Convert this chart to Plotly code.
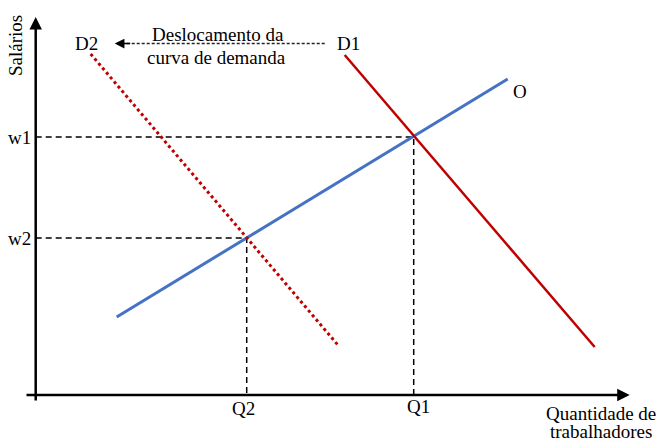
import plotly.graph_objects as go

# ---- data (economic units, origin at axes corner) ----
supply_x = [8.1, 47.2]
supply_y = [7.8, 31.6]
d1_x = [30.9, 55.9]
d1_y = [34.0, 4.8]
d2_x = [5.5, 30.3]
d2_y = [34.1, 4.9]
q_vals = [21.1, 37.8]          # Q2, Q1
w_vals = [15.7, 25.8]          # w2, w1
q_labels = ["Q2", "Q1"]
w_labels = ["w2", "w1"]
shift_x = [28.9, 8.8]
shift_y = [35.15, 35.15]

FONT = "Liberation Serif"
FS = 19

fig = go.Figure()

# guide dashed lines
for q, w in zip(q_vals, w_vals):
    fig.add_trace(go.Scatter(x=[0, q, q], y=[w, w, 0], mode="lines",
                             line=dict(color="black", width=1.5, dash="6px,4px"),
                             hoverinfo="skip"))

fig.add_trace(go.Scatter(x=supply_x, y=supply_y, mode="lines",
                         line=dict(color="#4472C4", width=3)))
fig.add_trace(go.Scatter(x=d1_x, y=d1_y, mode="lines",
                         line=dict(color="#C00000", width=2.5)))
fig.add_trace(go.Scatter(x=d2_x, y=d2_y, mode="lines",
                         line=dict(color="#C00000", width=3, dash="dot")))
fig.add_trace(go.Scatter(x=shift_x, y=shift_y, mode="lines",
                         line=dict(color="#222222", width=1.3, dash="3px,2px")))

anns = []
# axes arrows
anns.append(dict(x=0, y=37.8, ax=0, ay=-0.7, xref="x", yref="y", axref="x", ayref="y",
                 text="", showarrow=True, arrowhead=2, arrowsize=1, arrowwidth=2.5,
                 arrowcolor="black", standoff=0, startstandoff=0))
anns.append(dict(x=59.4, y=0, ax=-1.07, ay=0, xref="x", yref="y", axref="x", ayref="y",
                 text="", showarrow=True, arrowhead=2, arrowsize=1, arrowwidth=2.5,
                 arrowcolor="black", standoff=0, startstandoff=0))
# shift arrowhead
anns.append(dict(x=7.9, y=35.15, ax=9.6, ay=35.15, xref="x", yref="y", axref="x", ayref="y",
                 text="", showarrow=True, arrowhead=2, arrowsize=1.3, arrowwidth=1.5,
                 arrowcolor="black", standoff=0))

def txt(x, y, t, xanchor="center", textangle=0):
    anns.append(dict(x=x, y=y, text=t, showarrow=False, xref="x", yref="y",
                     xanchor=xanchor, yanchor="middle", textangle=textangle,
                     font=dict(family=FONT, size=FS, color="black")))

for w, lab in zip(w_vals, w_labels):
    txt(-0.27, w, lab, xanchor="right")
txt(20.8, -1.3, q_labels[0])
txt(38.3, -1.1, q_labels[1])
txt(56.5, -1.85, "Quantidade de")
txt(56.5, -3.65, "trabalhadores")
txt(-2.07, 34.9, "Salários", textangle=-90)
txt(5.1, 35.15, "D2")
txt(31.3, 35.2, "D1")
txt(48.4, 30.35, "O")
txt(18.2, 36.1, "Deslocamento da")
txt(18.1, 33.8, "curva de demanda")

fig.update_layout(
    width=658, height=441,
    margin=dict(l=0, r=0, t=0, b=0),
    paper_bgcolor="white", plot_bgcolor="white",
    showlegend=False,
    annotations=anns,
    font=dict(family=FONT),
    xaxis=dict(range=[-3.57, 62.23], visible=False, fixedrange=True),
    yaxis=dict(range=[-4.6, 39.5], visible=False, fixedrange=True),
)

fig.write_html("out.html", config={"displayModeBar": False},
               post_script="document.body.style.margin='0';document.body.style.overflow='hidden';")
